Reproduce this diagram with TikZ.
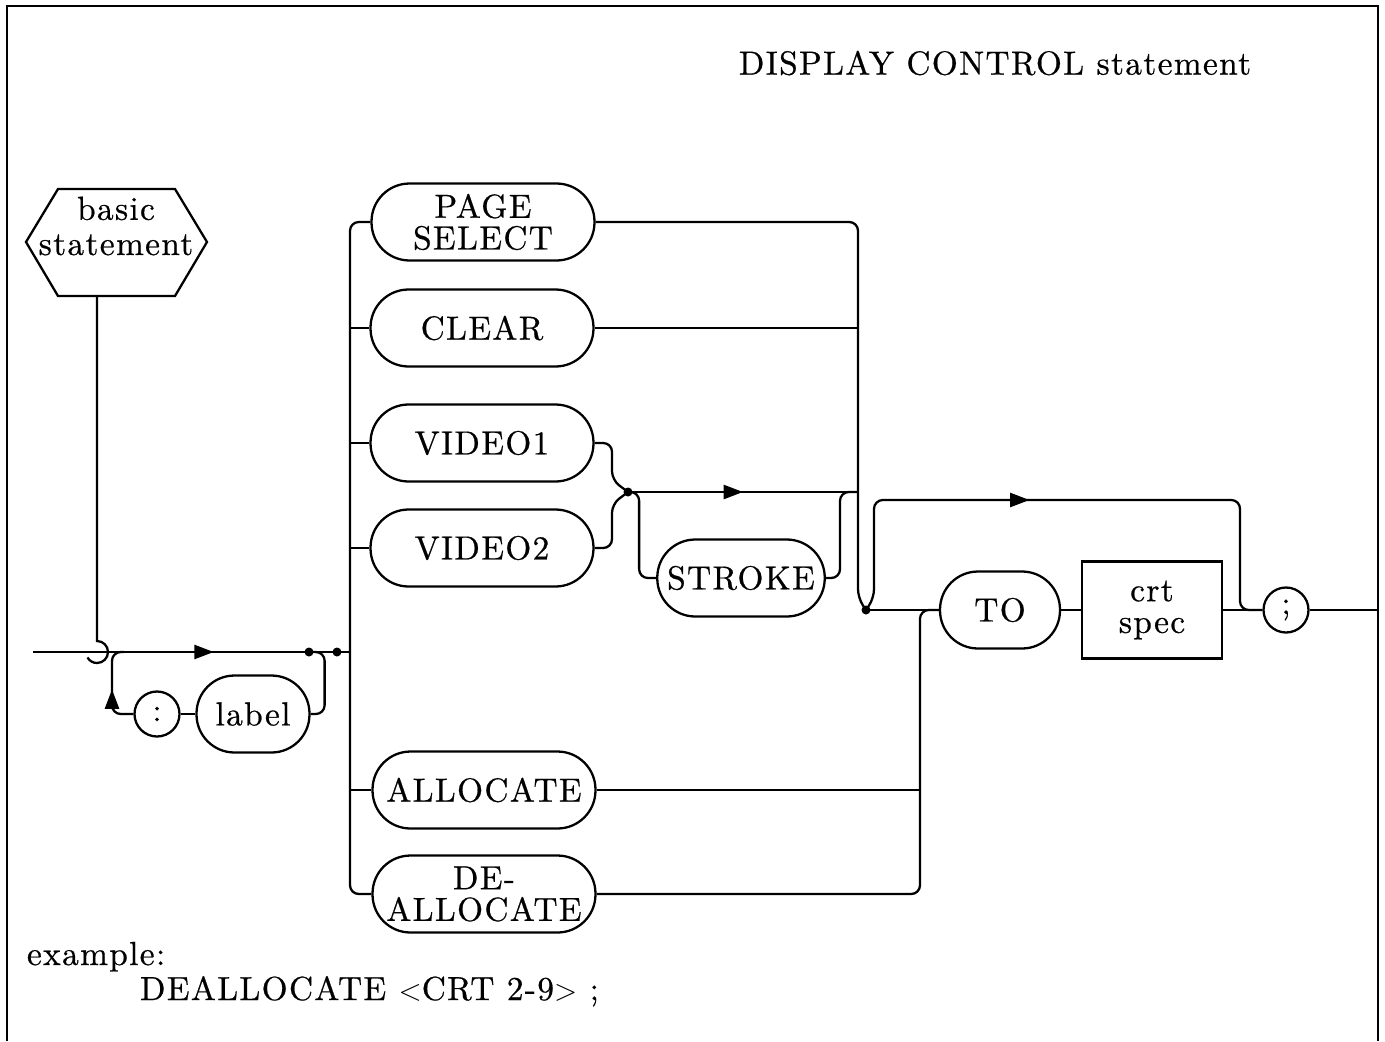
\documentclass[tikz,border=0pt]{standalone}
\usepackage{fontspec}
\setmainfont{lmroman10-regular.otf}[LetterSpace=4, FakeBold=0.6]
\usetikzlibrary{arrows.meta,calc,decorations.markings}
\tikzset{wire/.style={rounded corners=5pt},
  fwd/.style={postaction={decorate},
    decoration={markings, mark=at position #1 with {\arrow{Triangle[length=11pt,width=8pt]}}}},
  term/.style={draw, rounded corners=0.76cm, minimum width=4.46cm, minimum height=1.54cm, inner sep=0pt, align=center},
  nonterm/.style={draw, minimum width=2.8cm, minimum height=1.94cm, inner sep=0pt, align=center},
  sym/.style={draw, circle, minimum size=0.9cm, inner sep=0pt}}

\begin{document}
\begin{tikzpicture}[x=0.02cm, y=-0.02cm, line width=1.3pt,
    font=\fontsize{19}{18}\selectfont]
  \useasboundingbox (0,0) rectangle (1385,1041);
  % frame and title
  \draw[line width=1.5pt] (7,1041) -- (7,6) -- (1378,6) -- (1378,1041);
  \node (title) at (995,63) {DISPLAY CONTROL statement};

  % basic statement
  \draw (26,242) -- (58,189) -- (175,189) -- (207,242) -- (175,296) -- (58,296) -- cycle;
  \node[align=center, font=\fontsize{19}{20}\selectfont] (basic) at (116,226) {basic\\statement};
  \coordinate (hexb) at (97,296);

  % junction points
  \coordinate (in) at (33,652);
  \coordinate (j1) at (309,652);
  \coordinate (j2) at (337,652);
  \coordinate (bus) at (350,652);
  \coordinate (j3) at (628,492);
  \coordinate (b2) at (858,492);
  \coordinate (j4) at (866,610);
  \coordinate (b3) at (920,610);
  \coordinate (out) at (1378,610);

  % boxes
  \node[term] (page) at (483,222) {PAGE\\SELECT};
  \node[term] (clear) at (482,328) {CLEAR};
  \node[term] (vid1) at (482,443) {VIDEO1};
  \node[term] (vid2) at (482,548) {VIDEO2};
  \node[term] (alloc) at (484,790) {ALLOCATE};
  \node[term] (dealloc) at (484,894) {DE-\\ALLOCATE};
  \node[term, minimum width=3.35cm] (stroke) at (741,578) {STROKE};
  \node[term, minimum width=2.26cm] (label) at (253,714) {label};
  \node[sym] (colon) at (157,714) {:};
  \node[term, minimum width=2.4cm] (to) at (1000,610) {TO};
  \node[nonterm] (crt) at (1152,610) {crt\\spec};
  \node[sym] (semi) at (1286,610) {;};

  % entry and label loop
  \draw[fwd=0.57] (in) -- (j2) -- (bus);
  \draw (hexb) -- (97,641) arc[start angle=-90, end angle=150, radius=11];
  \draw (colon) -- (label);
  \draw[wire] (j1) -| ($(label.east)+(14,0)$) -- (label.east);
  \draw[wire, fwd=0.48] (colon.west) -| (112,652) -- (124,652);

  % bus to the choices
  \draw[wire] (page.west) -| (bus) |- (dealloc.west);
  \foreach \n in {clear,vid1,vid2,alloc} \draw (\n.west) -- (\n.west -| bus);

  % choices rejoin
  \draw[wire] (page.east) -| ($(j4)+(-8,-12)$) -- (j4);
  \draw (clear.east) -- (clear.east -| b2);
  \draw[wire] (vid1.east) -| ($(j3)+(-16,-12)$) -- (j3);
  \draw[wire] (vid2.east) -| ($(j3)+(-16,12)$) -- (j3);
  \draw[fwd=0.5] (j3) -- (b2);
  \draw[wire] (j3) -| ($(stroke.west)+(-17,0)$) -- (stroke.west);
  \draw[wire] (stroke.east) -| ($(b2)+(-18,0)$) -- (b2);

  % TO crt spec and end
  \draw (j4) -- (to.west);
  \draw[wire, fwd=0.44] (j4) -- ++(8,-12) |- (1240,500) |- (semi.west);
  \draw (alloc.east) -- (alloc.east -| b3);
  \draw[wire] (dealloc.east) -| (b3) -- (to.west);
  \draw (to) -- (crt);
  \draw (crt) -- (semi);
  \draw (semi) -- (out);
  \foreach \p in {j1,j2,j3,j4} \fill (\p) circle[radius=4.5];

  % example
  \node[anchor=base west] (ex) at (20,965) {example:};
  \node[anchor=base west] (excode) at (133,1000) {DEALLOCATE $<$CRT 2-9$>$ ;};
\end{tikzpicture}
\end{document}
